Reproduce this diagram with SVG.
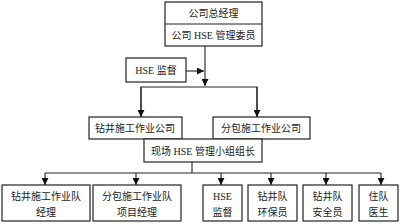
<svg xmlns="http://www.w3.org/2000/svg" width="400" height="224" viewBox="0 0 400 224">
<defs>
<style>
.box{fill:#fff;stroke:#222;stroke-width:1.2}
.ln{fill:none;stroke:#222;stroke-width:1.1}
text{font-family:"Liberation Serif","Noto Sans CJK SC",serif;font-size:10px;fill:#1a1a1a;text-anchor:middle;dominant-baseline:central}
</style>
<marker id="ah" viewBox="0 0 8 8" refX="8" refY="4" markerWidth="7" markerHeight="7" markerUnits="userSpaceOnUse" orient="auto">
<path d="M0,0 L8,4 L0,8 Z" fill="#111"/>
</marker>
</defs>
<rect width="400" height="224" fill="#fff"/>
<g id="connectors">
<line class="ln" x1="205" y1="46" x2="205" y2="86" marker-end="url(#ah)"/>
<line class="ln" x1="186" y1="71" x2="204" y2="71" marker-end="url(#ah)"/>
<polyline class="ln" points="141,117 141,87 257,87 257,117"/>
<line class="ln" x1="141" y1="87" x2="141" y2="117" marker-end="url(#ah)"/>
<line class="ln" x1="257" y1="87" x2="257" y2="117" marker-end="url(#ah)"/>
<line class="ln" x1="192" y1="162" x2="192" y2="173"/>
<line class="ln" x1="45" y1="173" x2="381" y2="173"/>
<line class="ln" x1="45" y1="173" x2="45" y2="185" marker-end="url(#ah)"/>
<line class="ln" x1="136" y1="173" x2="136" y2="185" marker-end="url(#ah)"/>
<line class="ln" x1="221" y1="173" x2="221" y2="185" marker-end="url(#ah)"/>
<line class="ln" x1="271" y1="173" x2="271" y2="185" marker-end="url(#ah)"/>
<line class="ln" x1="326" y1="173" x2="326" y2="185" marker-end="url(#ah)"/>
<line class="ln" x1="381" y1="173" x2="381" y2="185" marker-end="url(#ah)"/>
</g>
<g id="gm">
<rect class="box" x="165" y="2" width="97" height="44"/>
<line class="ln" x1="165" y1="24" x2="262" y2="24"/>
<text x="213.5" y="13">公司总经理</text>
<text x="213.5" y="35">公司 HSE 管理委员</text>
</g>
<g id="hse-sup">
<rect class="box" x="126" y="58" width="60" height="24"/>
<text x="156" y="70">HSE 监督</text>
</g>
<g id="drill-co">
<rect class="box" x="89" y="117" width="93" height="22"/>
<text x="135" y="128">钻井施工作业公司</text>
</g>
<g id="sub-co">
<rect class="box" x="213" y="117" width="97" height="22"/>
<text x="261" y="128">分包施工作业公司</text>
</g>
<g id="site-leader">
<rect class="box" x="144" y="139" width="118" height="23"/>
<text x="203" y="151">现场 HSE 管理小组组长</text>
</g>
<g id="b1">
<rect class="box" x="2" y="185" width="88" height="36"/>
<text x="46" y="196">钻井施工作业队</text>
<text x="46" y="212">经理</text>
</g>
<g id="b2">
<rect class="box" x="93" y="185" width="88" height="36"/>
<text x="137" y="196">分包施工作业队</text>
<text x="137" y="212">项目经理</text>
</g>
<g id="b3">
<rect class="box" x="203" y="185" width="39" height="36"/>
<text x="222.5" y="196">HSE</text>
<text x="222.5" y="212">监督</text>
</g>
<g id="b4">
<rect class="box" x="248" y="185" width="49" height="36"/>
<text x="272.5" y="196">钻井队</text>
<text x="272.5" y="212">环保员</text>
</g>
<g id="b5">
<rect class="box" x="303" y="185" width="49" height="36"/>
<text x="327.5" y="196">钻井队</text>
<text x="327.5" y="212">安全员</text>
</g>
<g id="b6">
<rect class="box" x="359" y="185" width="39" height="36"/>
<text x="378.5" y="196">住队</text>
<text x="378.5" y="212">医生</text>
</g>
</svg>
